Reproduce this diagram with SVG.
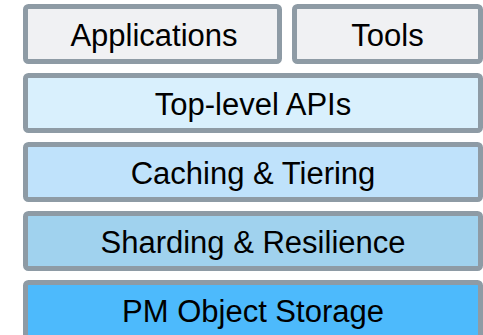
<svg xmlns="http://www.w3.org/2000/svg" width="483" height="335" viewBox="0 0 483 335">
  <style>
    .box { stroke: #8e9ba5; stroke-width: 5; }
    .lbl { font-family: "Liberation Sans", Arial, sans-serif; font-size: 31px; fill: #000; text-anchor: middle; }
    .grey { fill: #f0f1f3; }
  </style>
  <rect width="483" height="335" fill="#ffffff"/>
  <g id="applications">
    <rect class="box grey" x="25.5" y="6.5" width="254" height="55" rx="3"/>
    <text class="lbl" x="154" y="46">Applications</text>
  </g>
  <g id="tools">
    <rect class="box grey" x="294.5" y="6.5" width="186" height="55" rx="3"/>
    <text class="lbl" x="387.5" y="46">Tools</text>
  </g>
  <g id="top-level-apis">
    <rect class="box" fill="#d9f0fd" x="25.5" y="75.5" width="455" height="55" rx="3"/>
    <text class="lbl" x="253" y="115">Top-level APIs</text>
  </g>
  <g id="caching-tiering">
    <rect class="box" fill="#bfe2fb" x="25.5" y="144.5" width="455" height="55" rx="3"/>
    <text class="lbl" x="253" y="184">Caching &amp; Tiering</text>
  </g>
  <g id="sharding-resilience">
    <rect class="box" fill="#a0d2ee" x="25.5" y="213.5" width="455" height="55" rx="3"/>
    <text class="lbl" x="253" y="253">Sharding &amp; Resilience</text>
  </g>
  <g id="pm-object-storage">
    <rect class="box" fill="#4dbafc" x="25.5" y="282.5" width="455" height="60" rx="3"/>
    <text class="lbl" x="253" y="322">PM Object Storage</text>
  </g>
  <g id="connectors"/>
</svg>
